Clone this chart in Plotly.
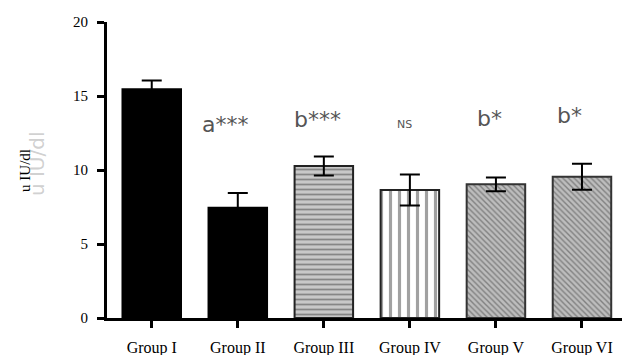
import plotly.graph_objects as go

groups = ["Group I", "Group II", "Group III", "Group IV", "Group V", "Group VI"]
means = [15.45, 7.45, 10.27, 8.65, 9.03, 9.55]
errors = [0.6, 1.0, 0.65, 1.05, 0.47, 0.88]
sig_labels = ["", "a***", "b***", "NS", "b*", "b*"]
sig_sizes = [22, 22, 22, 11, 22, 22]
sig_y = [0, 13.1, 13.4, 13.1, 13.5, 13.7]
sig_dx = [0, -13, -6, -5, -6, -12]
y_ticks = [0, 5, 10, 15, 20]

pattern_shapes = ["", "", "-", "|", "\\", "\\"]
pattern_bg = ["black", "black", "#c8c8c8", "white", "#bdbdbd", "#bdbdbd"]
pattern_fg = ["black", "black", "#333333", "#555555", "#444444", "#444444"]
pattern_size = [8, 8, 5, 9, 4, 4]
line_colors = ["black", "black", "#222222", "#222222", "#333333", "#333333"]

fig = go.Figure()
fig.add_trace(go.Bar(
    x=groups, y=means,
    width=0.68,
    marker=dict(
        color=pattern_bg,
        line=dict(color=line_colors, width=2),
        pattern=dict(shape=pattern_shapes, fgcolor=pattern_fg, bgcolor=pattern_bg,
                     size=pattern_size, solidity=0.35, fillmode="overlay"),
    ),
    error_y=dict(type="data", array=errors, visible=True, color="black",
                 thickness=2, width=10),
    showlegend=False,
))

for g, s, fs, sy, dx in zip(groups, sig_labels, sig_sizes, sig_y, sig_dx):
    if s:
        fig.add_annotation(x=g, y=sy, text=s, showarrow=False, xshift=dx,
                           font=dict(family="DejaVu Sans", size=fs, color="#555555"),
                           yanchor="middle")

# y-axis title (plus faint ghost copy as in the scanned original)
fig.add_annotation(x=0.0, y=0.52, xref="paper", yref="paper", xshift=-70,
                   xanchor="center", yanchor="middle",
                   text="u IU/dl", textangle=-90, showarrow=False,
                   font=dict(family="DejaVu Sans", size=20, color="rgba(150,150,150,0.45)"))
fig.add_annotation(x=0.0, y=0.497, xref="paper", yref="paper", xshift=-82,
                   xanchor="center", yanchor="middle",
                   text="u IU/dl", textangle=-90, showarrow=False,
                   font=dict(family="Liberation Serif", size=15, color="black"))

fig.update_layout(
    width=622, height=347,
    margin=dict(l=99, r=5, t=14, b=37),
    plot_bgcolor="white", paper_bgcolor="white",
    xaxis=dict(
        range=[-0.52, 5.5], showline=True, linecolor="black", linewidth=3,
        ticks="outside", ticklen=7, tickwidth=3, tickcolor="black",
        ticklabelstandoff=6, automargin=False,
        tickfont=dict(family="Liberation Serif", size=16, color="black"),
        showgrid=False, zeroline=False,
    ),
    yaxis=dict(
        range=[0, 20], tickvals=y_ticks, showline=True, linecolor="black", linewidth=3,
        ticks="outside", ticklen=7, tickwidth=3, tickcolor="black",
        ticklabelstandoff=6, automargin=False,
        tickfont=dict(family="Liberation Serif", size=15, color="black"),
        showgrid=False, zeroline=False,
    ),
)

fig.write_html("out.html")
